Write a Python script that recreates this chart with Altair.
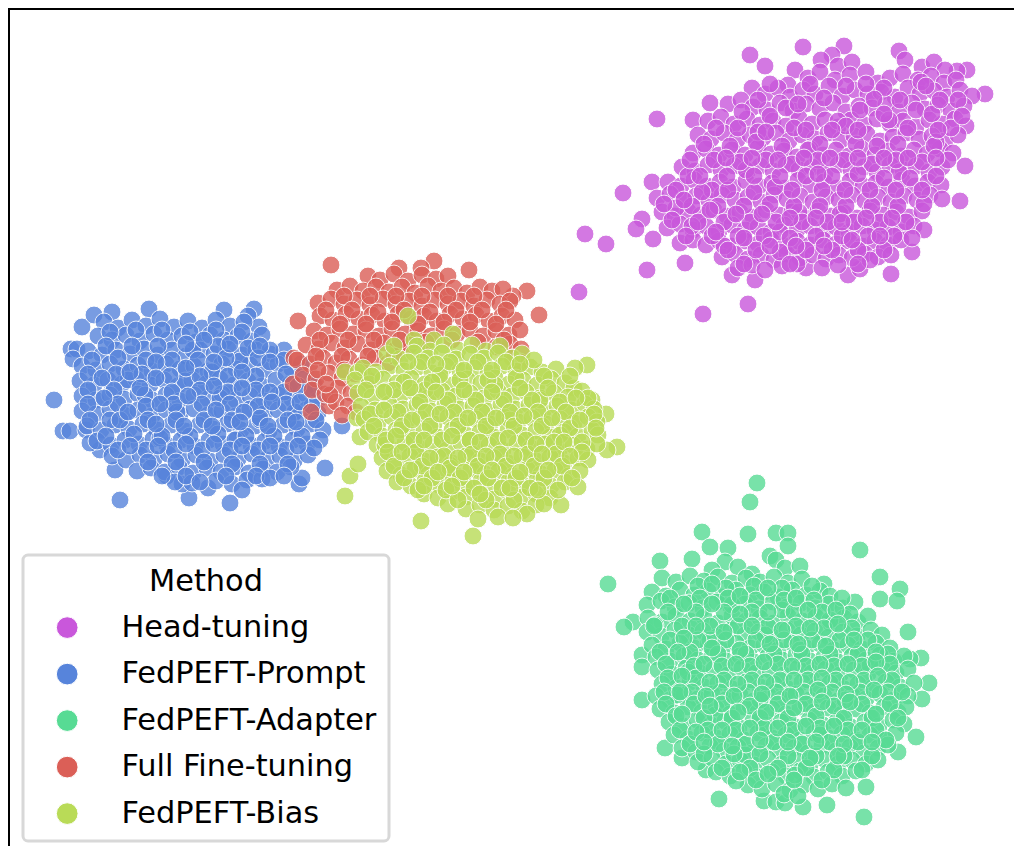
import altair as alt
import pandas as pd

methods = ["Head-tuning", "FedPEFT-Prompt", "FedPEFT-Adapter", "Full Fine-tuning", "FedPEFT-Bias"]
colors = ["#c957db", "#5784db", "#57db94", "#db5f57", "#b9db57"]

head_tuning = [
(750,55),(803,47),(765,66),(844,46),(899,51),(657,119),(693,120),(710,103),(985,94),(965,166),(960,201),(623,193),(652,182),(642,219),(636,229),(585,234),(606,244),(579,292),(647,270),(685,263),(703,314),(748,304),(732,275),(755,280),(806,268),(848,275),(860,269),(891,274),(912,252),(653,239),(967,70),(957,71),
(832,55),(821,60),(838,66),(852,62),(905,60),(922,67),(934,62),(945,70),
(795,70),(808,78),(788,85),(820,72),(835,80),(850,75),(866,72),(878,83),(890,78),(903,74),(918,80),(931,76),(944,83),(956,80),
(752,88),(765,94),(778,88),(790,97),(803,90),(815,94),(829,86),(842,96),(855,90),(868,94),(881,92),(895,97),(908,88),(920,94),(934,91),(947,97),(960,90),(972,96),
(728,104),(741,100),(753,107),(767,110),(780,103),(793,111),(806,104),(820,109),(833,103),(846,112),(859,106),(872,108),(886,104),(899,112),(912,103),(925,109),(938,105),(951,111),(964,106),
(708,121),(721,117),(734,124),(747,119),(760,125),(773,121),(786,126),(799,118),(812,124),(825,120),(838,127),(851,120),(864,125),(877,119),(890,124),(903,121),(916,127),(929,120),(942,124),(955,119),(966,126),
(698,135),(711,139),(724,133),(737,140),(750,135),(763,138),(776,133),(789,141),(802,135),(815,139),(828,133),(841,140),(854,136),(867,134),(880,141),(893,137),(906,133),(919,139),(932,136),(945,141),(958,135),
(693,153),(706,149),(719,155),(732,150),(745,155),(758,148),(771,154),(784,151),(797,157),(810,149),(823,155),(836,150),(849,156),(862,149),(875,155),(888,151),(901,156),(914,150),(927,154),(940,149),(953,153),
(682,167),(695,171),(708,165),(721,170),(734,166),(747,172),(760,166),(773,171),(786,165),(799,170),(812,167),(825,173),(838,165),(851,170),(864,167),(877,172),(890,165),(903,170),(916,166),(929,172),(942,167),
(668,182),(681,186),(694,180),(707,186),(720,182),(733,187),(746,181),(759,186),(772,183),(785,188),(798,180),(811,185),(824,182),(837,188),(850,181),(863,186),(876,183),(889,187),(902,180),(915,186),(928,182),(941,185),
(657,198),(670,194),(683,200),(696,196),(709,201),(722,195),(735,200),(748,197),(761,202),(774,195),(787,199),(800,196),(813,202),(826,197),(839,200),(852,195),(865,201),(878,197),(891,202),(904,196),(917,200),(930,195),(942,199),
(662,212),(675,216),(688,211),(701,215),(714,210),(727,216),(740,212),(753,217),(766,210),(779,215),(792,212),(805,218),(818,211),(831,216),(844,213),(857,218),(870,211),(883,215),(896,212),(909,217),(922,211),
(667,228),(680,224),(693,230),(706,226),(719,231),(732,225),(745,230),(758,227),(771,232),(784,225),(797,230),(810,226),(823,231),(836,227),(849,232),(862,226),(875,230),(888,227),(901,232),(914,226),(924,230),
(680,243),(693,240),(706,245),(719,241),(732,246),(745,241),(758,244),(771,240),(784,246),(797,241),(810,245),(823,240),(836,244),(849,241),(862,246),(875,241),(888,245),(901,240),(912,238),
(722,257),(735,254),(748,259),(761,255),(774,260),(787,254),(800,258),(813,255),(826,259),(839,255),(852,258),(865,254),(878,257),(891,255),
(738,268),(752,265),(765,270),(782,266),(797,264),(822,268),(838,265),(870,260),
(889,120),(921,82),(808,150),(712,190),(746,170),(838,121),(899,172),(780,232),(775,187),(860,110),(936,142),(676,208),(724,246),(822,190),(877,146),(758,132),(951,128),(692,226),(799,212),(840,214),
(810,84),(846,86),(884,88),(926,86),(758,100),(786,108),(824,98),(874,99),(916,110),(958,100),
(716,128),(742,112),(770,116),(794,128),(846,126),(884,114),(932,114),(962,116),(704,144),(730,146),(756,142),(782,146),(820,144),(856,144),(898,144),(934,146),
(688,176),(714,160),(740,162),(766,160),(792,164),(818,160),(844,160),(872,164),(896,160),(922,162),(948,160),(676,190),(702,192),(728,190),(754,192),(780,176),(806,176),(832,176),(858,174),(884,178),(910,178),(936,176),
(664,204),(692,206),(718,206),(744,206),(770,204),(794,206),(820,206),(846,206),(872,206),(898,206),(924,204),(672,220),(698,222),(724,222),(750,222),(776,222),(802,222),(828,222),(854,222),(880,222),(906,222),
(686,236),(712,236),(738,236),(764,236),(790,238),(816,236),(842,236),(868,236),(894,236),(728,250),(756,250),(780,252),(806,250),(832,250),(858,250),(884,250),
(700,176),(727,176),(754,176),(792,190),(818,174),(845,190),(870,190),(896,190),(922,190),(690,160),(726,158),(752,158),(778,160),(804,158),(830,158),(858,158),(884,158),(908,158),(936,158),(738,128),(766,132),(806,130),(832,130),(858,130),(908,128),(938,130),(770,84),(798,104),(866,84),(900,100),(940,100),(684,200),(710,210),(736,214),(762,214),(790,218),(816,218),(842,222),(866,218),(892,218),(716,232),(744,238),(770,246),(796,246),(824,246),(852,240),(880,236),(744,264),(790,264),(858,264),
]

fedpeft_prompt = [
(54,400),(63,431),(70,431),(82,327),(94,315),(112,312),(149,309),(224,310),(254,309),(248,316),(259,327),(120,500),(189,498),(230,503),(208,488),(115,470),(325,468),(342,426),(299,484),(302,478),(167,476),(182,484),(71,349),(77,349),(73,359),(86,430),(100,450),(90,443),
(104,322),(118,328),(132,320),(146,326),(160,319),(174,327),(188,321),(202,328),(216,320),(230,326),(244,322),
(98,336),(112,340),(126,335),(140,341),(154,334),(168,340),(182,336),(196,342),(210,335),(224,340),(238,336),(252,341),(262,335),
(88,351),(102,355),(116,350),(130,354),(144,349),(158,355),(172,350),(186,356),(200,350),(214,354),(228,349),(242,355),(256,350),(270,354),(284,350),
(82,366),(96,370),(110,364),(124,369),(138,365),(152,371),(166,364),(180,369),(194,366),(208,371),(222,364),(236,369),(250,365),(264,370),(278,364),(292,369),(301,364),
(80,381),(94,385),(108,380),(122,384),(136,379),(150,385),(164,380),(178,386),(192,380),(206,384),(220,379),(234,385),(248,381),(262,386),(276,380),(290,384),(304,379),(314,385),
(82,396),(96,400),(110,395),(124,399),(138,394),(152,400),(166,395),(180,401),(194,395),(208,399),(222,394),(236,400),(250,396),(264,401),(278,395),(292,399),(306,394),(318,400),
(82,411),(96,414),(110,409),(124,415),(138,410),(152,416),(166,410),(180,414),(194,409),(208,415),(222,411),(236,416),(250,409),(264,414),(278,410),(292,416),(306,410),(318,413),
(87,426),(101,430),(115,425),(129,429),(143,424),(157,430),(171,425),(185,431),(199,425),(213,429),(227,424),(241,430),(255,426),(269,431),(283,425),(297,429),(311,424),(323,430),
(97,441),(111,445),(125,440),(139,444),(153,439),(167,445),(181,440),(195,446),(209,440),(223,444),(237,439),(251,445),(265,441),(279,446),(293,440),(307,444),(320,440),
(112,456),(126,460),(140,455),(154,459),(168,454),(182,460),(196,455),(210,461),(224,455),(238,459),(252,454),(266,460),(280,456),(294,461),(308,455),
(137,471),(151,468),(165,472),(179,467),(193,473),(207,468),(221,472),(235,467),(249,473),(263,469),(277,472),(291,467),
(175,482),(192,483),(216,481),(232,484),(247,480),(262,479),(242,490),
(145,395),(212,372),(260,420),(177,412),(128,380),(235,440),(295,412),(193,350),(160,438),(220,398),(270,350),(110,420),(185,381),(240,361),
(110,332),(136,330),(162,330),(190,332),(216,330),(242,332),(106,346),(132,346),(158,346),(186,344),(218,346),(248,348),(92,360),(118,358),(146,360),(172,360),(198,360),(226,358),(258,358),(284,360),
(88,374),(116,374),(142,374),(170,376),(200,376),(228,376),(256,376),(286,374),(88,390),(114,390),(140,388),(172,392),(200,390),(228,392),(256,390),(284,392),(310,390),
(88,404),(118,404),(146,406),(174,404),(202,404),(230,404),(258,406),(286,404),(312,406),(90,420),(120,420),(148,420),(176,420),(204,420),(232,420),(260,418),(288,420),(316,420),
(106,436),(134,434),(162,436),(190,436),(218,434),(246,436),(274,436),(302,436),(118,450),(146,450),(174,450),(202,450),(230,450),(258,450),(286,450),(314,448),(148,462),(176,462),(204,462),(232,464),(260,464),(288,464),(186,476),(226,476),(256,476),
(204,340),(230,344),(260,346),(156,362),(186,368),(214,362),(242,372),(270,362),(102,378),(130,372),(156,378),(214,386),(242,388),(270,392),(298,386),(104,398),(160,404),(188,396),(216,410),(244,412),(272,402),(300,402),(128,412),(156,424),(184,426),(212,426),(240,422),(268,426),(296,422),(130,446),(158,446),(186,444),(214,444),(242,446),(270,446),(298,446),(162,476),(200,482),(270,478),(284,476),
]

fedpeft_adapter = [
(757,483),(750,502),(702,532),(748,534),(776,533),(788,533),(788,546),(710,547),(728,548),(860,550),(608,584),(660,561),(692,559),(880,577),(900,589),(880,599),(897,601),(908,632),(633,622),(624,627),(642,655),(642,667),(642,700),(921,658),(910,659),(929,683),(922,699),(916,737),(898,752),(665,748),(682,758),(719,799),(764,801),(776,802),(785,803),(803,807),(827,805),(864,817),(866,787),(706,770),
(725,562),(738,567),(770,556),(776,560),(785,568),(800,566),(712,570),(752,574),
(662,578),(676,582),(690,576),(704,581),(718,577),(732,583),(746,578),(760,582),(774,577),(788,583),(802,579),(824,584),
(652,592),(666,596),(680,590),(694,595),(708,591),(722,597),(736,590),(750,595),(764,592),(778,597),(792,590),(806,595),(820,591),(830,596),
(647,605),(661,601),(675,607),(689,603),(703,608),(717,602),(731,607),(745,604),(759,609),(773,602),(787,607),(801,603),(815,608),(829,604),(843,608),(855,602),
(648,618),(662,622),(676,616),(690,621),(704,617),(718,623),(732,616),(746,621),(760,618),(774,623),(788,616),(802,621),(816,617),(830,623),(844,618),(858,622),(868,616),
(647,632),(661,636),(675,630),(689,635),(703,631),(717,637),(731,630),(745,635),(759,632),(773,637),(787,630),(801,635),(815,631),(829,637),(843,632),(857,636),(871,630),(882,635),
(652,645),(666,649),(680,643),(694,648),(708,644),(722,650),(736,643),(750,648),(764,645),(778,650),(792,643),(806,648),(820,644),(834,650),(848,645),(862,649),(876,643),(890,648),
(656,657),(670,661),(684,656),(698,660),(712,655),(726,661),(740,656),(754,662),(768,656),(782,660),(796,655),(810,661),(824,657),(838,662),(852,656),(866,660),(880,655),(894,661),(904,656),
(658,670),(672,674),(686,668),(700,673),(714,669),(728,675),(742,668),(756,673),(770,670),(784,675),(798,668),(812,673),(826,669),(840,675),(854,670),(868,674),(882,668),(896,673),(908,669),
(662,684),(676,688),(690,682),(704,687),(718,683),(732,689),(746,682),(760,687),(774,684),(788,689),(802,682),(816,687),(830,683),(844,689),(858,684),(872,688),(886,682),(900,687),(914,683),
(656,696),(670,700),(684,695),(698,699),(712,694),(726,700),(740,695),(754,701),(768,695),(782,699),(796,694),(810,700),(824,696),(838,701),(852,695),(866,699),(880,694),(894,700),(908,696),
(660,709),(674,713),(688,707),(702,712),(716,708),(730,714),(744,707),(758,712),(772,709),(786,714),(800,707),(814,712),(828,708),(842,714),(856,709),(870,713),(884,707),(898,712),(906,707),
(669,722),(683,726),(697,720),(711,725),(725,721),(739,727),(753,720),(767,725),(781,722),(795,727),(809,720),(823,725),(837,721),(851,727),(865,722),(879,726),(893,720),(904,724),
(674,735),(688,739),(702,733),(716,738),(730,734),(744,740),(758,733),(772,738),(786,735),(800,740),(814,733),(828,738),(842,734),(856,740),(870,735),(884,739),(896,733),
(682,748),(696,752),(710,746),(724,751),(738,747),(752,753),(766,746),(780,751),(794,748),(808,753),(822,746),(836,751),(850,747),(864,753),(878,748),(888,745),
(698,762),(712,758),(726,764),(740,760),(754,765),(768,759),(782,764),(796,760),(810,765),(824,759),(838,764),(852,760),(866,764),(878,760),
(716,772),(730,776),(744,771),(758,777),(772,772),(786,776),(800,771),(814,777),(828,772),(842,776),(856,771),
(748,785),(762,789),(776,784),(790,790),(804,785),(818,789),(832,784),(846,788),(736,781),(784,794),(798,796),
(732,605),(800,650),(688,672),(760,700),(845,700),(710,640),(782,610),(820,735),(677,695),(745,755),(870,665),(830,620),(715,715),(795,775),(765,635),(655,625),
(698,586),(726,588),(754,586),(782,588),(812,586),(670,598),(700,598),(728,598),(756,600),(784,600),(814,600),(842,598),(668,612),(696,612),(724,612),(752,612),(794,612),(822,612),(850,614),
(654,626),(682,626),(710,626),(738,626),(768,626),(796,626),(824,628),(852,628),(670,640),(698,640),(726,640),(756,640),(784,640),(812,640),(840,640),(868,640),(660,652),(690,652),(718,654),(746,654),(774,654),(802,654),(830,654),(858,654),(888,654),
(666,664),(694,666),(722,666),(750,666),(778,664),(806,666),(834,666),(862,666),(890,664),(668,678),(696,678),(724,680),(752,680),(780,680),(808,680),(836,680),(864,680),(892,680),
(664,692),(692,692),(720,692),(748,692),(776,692),(804,692),(832,692),(860,692),(888,692),(666,704),(694,704),(722,704),(750,706),(778,704),(806,704),(834,706),(862,704),(890,704),
(676,716),(704,718),(732,718),(760,718),(788,718),(816,716),(844,718),(872,718),(898,718),(680,730),(708,730),(736,730),(764,728),(792,730),(820,728),(848,730),(876,730),(690,744),(718,744),(746,744),(774,742),(802,744),(830,742),(858,742),(886,740),
(704,754),(734,754),(760,754),(788,756),(816,756),(844,756),(872,756),(722,768),(750,768),(778,768),(806,768),(834,770),(862,770),(756,780),(794,780),(822,780),
(712,584),(740,596),(768,588),(796,598),(684,604),(712,604),(740,614),(768,612),(808,610),(836,610),(696,626),(724,632),(752,626),(782,630),(810,628),(838,624),(684,638),(712,648),(740,650),(770,644),(798,644),(826,646),(854,640),(876,652),(678,652),(704,664),(736,664),(764,662),(792,666),(820,664),(848,664),(876,662),(682,676),(710,682),(738,684),(766,682),(794,680),(822,678),(850,682),(878,676),(680,692),(706,696),(734,696),(762,694),(790,696),(818,690),(846,694),(874,690),(902,692),(682,714),(710,706),(738,712),(766,712),(794,708),(822,702),(850,702),(876,714),(696,732),(722,730),(750,728),(778,728),(806,726),(834,726),(862,730),(704,742),(732,746),(760,740),(788,742),(816,742),(844,744),(872,742),(740,772),(768,774),(810,758),(838,756),
]

full_fine_tuning = [
(331,265),(298,321),(434,261),(469,270),(527,291),(513,296),(539,315),(399,268),(293,384),(311,412),(329,406),(294,358),(421,268),
(368,276),(380,280),(394,274),(408,281),(422,275),(436,279),(448,276),
(337,290),(350,286),(363,291),(376,287),(389,292),(402,287),(415,293),(428,286),(441,291),(454,288),(467,293),(480,287),(492,291),(503,289),
(318,303),(331,299),(344,304),(357,300),(370,305),(383,299),(396,304),(409,301),(422,306),(435,300),(448,304),(461,301),(474,306),(487,300),(500,304),(510,301),
(320,316),(333,320),(346,314),(359,319),(372,315),(385,321),(398,314),(411,319),(424,316),(437,321),(450,314),(463,319),(476,315),(489,321),(502,316),(515,320),
(314,331),(327,335),(340,329),(353,334),(366,330),(379,336),(392,329),(405,334),(418,331),(431,336),(444,329),(457,334),(470,330),(483,336),(496,331),(509,335),(520,330),
(306,345),(319,349),(332,343),(345,348),(358,344),(371,350),(384,343),(397,348),(410,345),(496,347),(510,344),(521,349),
(297,360),(310,364),(323,358),(336,363),(349,359),(362,365),(375,358),(388,363),(513,358),(520,362),
(303,375),(316,379),(329,373),(342,378),(355,374),(368,380),
(312,390),(325,394),(338,388),(351,393),(336,402),(348,406),(330,395),(356,412),(342,415),
(344,296),(370,296),(396,296),(422,296),(448,296),(474,296),(326,310),(352,310),(378,312),(404,310),(430,312),(456,310),(482,310),(506,310),
(340,324),(366,324),(392,322),(418,324),(444,322),(470,322),(496,324),(320,340),(348,340),(374,340),(400,340),(426,342),(452,340),(478,342),(504,340),(316,356),(342,356),(368,356),(394,356),(318,370),(344,370),(326,384),
]

fedpeft_bias = [
(408,316),(453,334),(421,521),(473,536),(345,496),(350,476),(358,464),(617,447),(607,450),(606,414),(587,365),(575,368),(345,372),(358,372),(360,437),(357,418),(592,400),(414,340),(434,340),
(417,346),(430,351),(444,345),(458,350),(472,345),(486,351),(500,346),
(387,354),(400,359),(414,353),(428,358),(442,353),(456,359),(470,354),(484,358),(498,353),(512,358),(522,354),
(363,368),(376,372),(390,366),(404,371),(418,367),(432,373),(446,366),(460,371),(474,368),(488,373),(502,366),(516,371),(530,367),(542,372),(556,369),
(355,380),(369,384),(383,379),(397,383),(411,378),(425,384),(439,379),(453,385),(467,379),(481,383),(495,378),(509,384),(523,380),(537,385),(551,379),(565,383),(574,388),
(358,393),(372,397),(386,391),(400,396),(414,392),(428,398),(442,391),(456,396),(470,393),(484,398),(498,391),(512,396),(526,392),(540,398),(554,393),(568,397),(582,391),
(361,406),(375,410),(389,404),(403,409),(417,405),(431,411),(445,404),(459,409),(473,406),(487,411),(501,404),(515,409),(529,405),(543,411),(557,406),(571,410),(585,404),(594,409),
(364,419),(378,423),(392,417),(406,422),(420,418),(434,424),(448,417),(462,422),(476,419),(490,424),(504,417),(518,422),(532,418),(546,424),(560,419),(574,423),(588,417),(597,422),
(368,432),(382,436),(396,430),(410,435),(424,431),(438,437),(452,430),(466,435),(480,432),(494,437),(508,430),(522,435),(536,431),(550,437),(564,432),(578,436),(592,430),(598,435),
(377,445),(391,449),(405,443),(419,448),(433,444),(447,450),(461,443),(475,448),(489,445),(503,450),(517,443),(531,448),(545,444),(559,450),(573,445),(587,449),(597,444),
(382,458),(396,462),(410,456),(424,461),(438,457),(452,463),(466,456),(480,461),(494,458),(508,463),(522,456),(536,461),(550,457),(564,463),(578,458),(588,460),
(387,471),(401,475),(415,469),(429,474),(443,470),(457,476),(471,469),(485,474),(499,471),(513,476),(527,469),(541,474),(555,470),(569,476),(580,471),
(397,482),(411,486),(425,481),(439,485),(453,480),(467,486),(481,481),(495,487),(509,481),(523,485),(537,480),(551,486),(565,482),(578,487),
(424,494),(438,498),(452,492),(466,497),(480,493),(494,499),(508,492),(522,497),(536,494),(550,498),(561,505),
(448,504),(466,509),(480,505),(494,510),(508,506),(522,511),(536,505),(478,519),(498,517),(527,514),(513,518),
(440,375),(510,420),(470,440),(400,430),(540,400),(450,465),(425,390),(495,385),(385,445),(560,435),
(394,346),(422,362),(450,362),(478,362),(506,362),(534,360),(372,376),(404,382),(432,382),(460,380),(488,380),(516,378),(544,376),(570,376),
(366,390),(394,390),(420,402),(448,400),(476,400),(504,400),(532,400),(560,402),(588,398),(370,414),(398,412),(426,412),(454,412),(482,412),(510,412),(538,412),(566,412),(594,414),
(374,426),(402,426),(430,426),(458,426),(486,426),(514,426),(542,426),(570,428),(596,428),(386,440),(414,440),(442,440),(470,440),(498,440),(526,440),(554,442),(582,442),
(388,452),(416,452),(444,456),(472,454),(500,454),(528,454),(556,454),(582,452),(394,466),(422,466),(450,468),(478,466),(506,466),(534,466),(562,466),(404,478),(432,478),(460,478),(488,478),(516,478),(544,478),(572,478),
(418,490),(446,490),(474,488),(502,488),(530,488),(558,490),(458,500),(486,500),(514,500),(544,504),
(408,362),(436,364),(464,370),(492,370),(520,364),(384,392),(410,388),(436,392),(464,390),(492,392),(520,388),(548,388),(576,398),(384,410),(412,420),(440,414),(468,418),(496,418),(524,416),(552,418),(580,420),(396,436),(424,440),(452,436),(480,442),(508,438),(536,444),(564,442),(402,452),(430,458),(458,458),(486,456),(514,456),(542,454),(570,456),(410,470),(438,472),(464,472),(492,470),(520,472),(548,470),(424,486),(452,486),(480,494),(510,488),(538,490),
]

series = [head_tuning, fedpeft_prompt, fedpeft_adapter, full_fine_tuning, fedpeft_bias]
rows = []
for name, pts in zip(methods, series):
    for px, py in pts:
        rows.append({"x": px, "y": py, "Method": name})
df = pd.DataFrame(rows)

x_scale = alt.Scale(domain=[8, 1014], nice=False, zero=False)
y_scale = alt.Scale(domain=[846, 8], nice=False, zero=False)

points = (
    alt.Chart(df)
    .mark_point(filled=True, opacity=0.8, stroke="white", strokeWidth=1, size=320)
    .encode(
        x=alt.X("x:Q", scale=x_scale, axis=None),
        y=alt.Y("y:Q", scale=y_scale, axis=None),
        color=alt.Color(
            "Method:N",
            scale=alt.Scale(domain=methods, range=colors),
            legend=alt.Legend(
                orient="none", legendX=15, legendY=547, title="Method",
                titleFontSize=30.4, titleFontWeight="normal", titleFont="DejaVu Sans", titleColor="black",
                titleAnchor="middle", titleAlign="center", titlePadding=15,
                labelFontSize=30.4, labelFont="DejaVu Sans", labelColor="black", labelLimit=400,
                labelOffset=39, rowPadding=15.5, symbolSize=470, symbolOpacity=1, symbolOffset=17,
                symbolStrokeWidth=1, symbolType="circle",
                padding=12, fillColor="white", strokeColor="#d8d8d8", cornerRadius=5,
            ),
        ),
        order=alt.Order("idx:Q"),
    )
    .transform_window(idx="row_number()")
)

top_edge = alt.Chart(df.head(1)).mark_rule(color="black", strokeWidth=2).encode(
    x=alt.value(0), x2=alt.value(1006), y=alt.value(1)
)
left_edge = alt.Chart(df.head(1)).mark_rule(color="black", strokeWidth=2).encode(
    x=alt.value(1), y=alt.value(0), y2=alt.value(838)
)

chart = (
    alt.layer(points, top_edge, left_edge)
    .properties(width=1006, height=838, padding=0, autosize=alt.AutoSizeParams(type="none"))
    .configure_view(strokeWidth=0)
    .configure_legend(strokeWidth=3)
)

chart.save("out.html", embed_options={"renderer": "svg", "actions": False})
